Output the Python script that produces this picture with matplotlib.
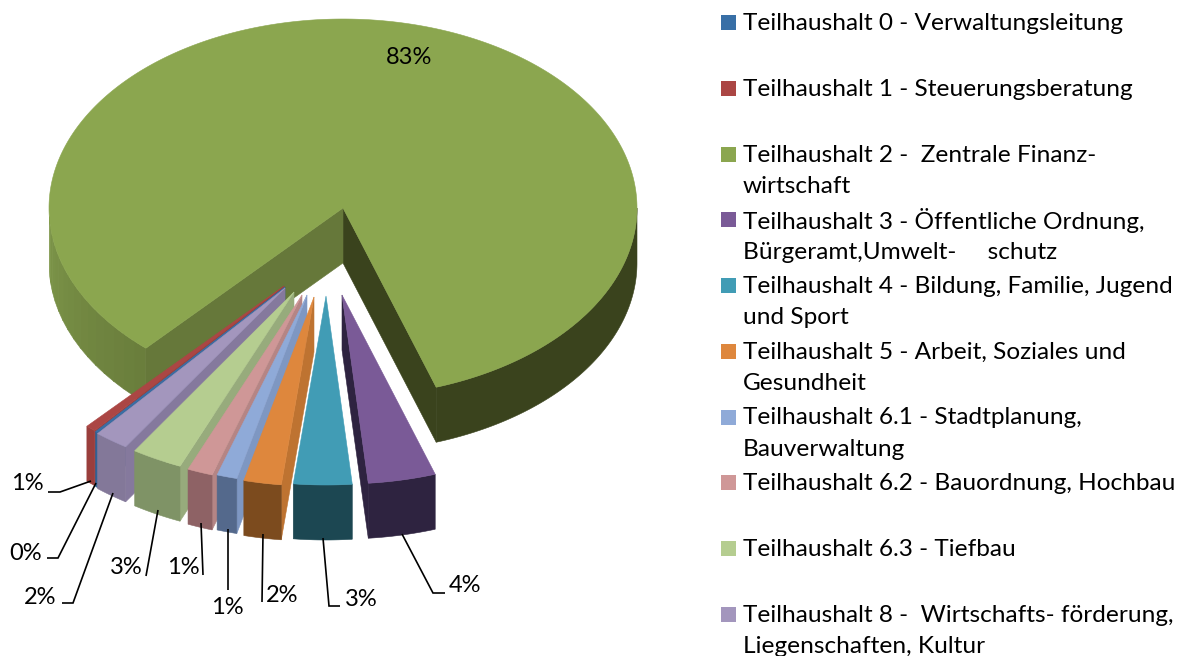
import numpy as np
import matplotlib
matplotlib.use("Agg")
import matplotlib.pyplot as plt
from matplotlib.patches import Polygon, Rectangle

plt.rcParams['font.family'] = ['Lato', 'DejaVu Sans']

# Werte in Prozent, Reihenfolge wie in der Legende
labels = [
    "Teilhaushalt 0 - Verwaltungsleitung",
    "Teilhaushalt 1 - Steuerungsberatung",
    "Teilhaushalt 2 -  Zentrale Finanz-\nwirtschaft",
    "Teilhaushalt 3 - Öffentliche Ordnung,\nBürgeramt,Umwelt-     schutz",
    "Teilhaushalt 4 - Bildung, Familie, Jugend\nund Sport",
    "Teilhaushalt 5 - Arbeit, Soziales und\nGesundheit",
    "Teilhaushalt 6.1 - Stadtplanung,\nBauverwaltung",
    "Teilhaushalt 6.2 - Bauordnung, Hochbau",
    "Teilhaushalt 6.3 - Tiefbau",
    "Teilhaushalt 8 -  Wirtschafts- förderung,\nLiegenschaften, Kultur",
]
values = [0.14, 0.55, 83.17, 3.71, 3.2, 2.06, 1.11, 1.39, 2.78, 1.89]

top_colors = ['#386FA6', '#AB4644', '#8BA64F', '#7A5A97', '#419CB5',
              '#DE873D', '#8FAAD8', '#CF9797', '#B5CD90', '#A396BD']
wall_colors = ['#2F6295', '#9A3E3C', '#3A431D', '#2E2340', '#1C4752',
               '#7C4B1E', '#54698C', '#8E6265', '#7F9366', '#837899']
side_colors = ['#2F6295', '#9A3E3C', '#3A431D', '#2E2340', '#1C4752',
               '#BE7331', '#7E97C2', '#B58585', '#97AB7C', '#85799D']

# Versatz der herausgezogenen Stuecke in Pixeln
shift_x = [-58, -59, 0, -1, -17, -29, -36, -41, -49, -58]
shift_y = [79, 78, 0, 87, 88, 89, 87, 87, 84, 80]

CX, CY = 343, 208
RX, RY = 294, 189
DEPTH = 55
START = 219.62  # Grad im Uhrzeigersinn von oben


def rim(theta, dx=0, dy=0, r=1.0):
    t = np.radians(theta)
    return np.column_stack([CX + dx + r * RX * np.sin(t), CY + dy - r * RY * np.cos(t)])


def arc(a, b, dx=0, dy=0):
    return rim(np.linspace(a, b, max(int(abs(b - a) * 2), 2)), dx, dy)


def poly(ax, pts, color, z):
    ax.add_patch(Polygon(pts, closed=True, fc=color, ec=color, lw=0.4, zorder=z))


fig = plt.figure(figsize=(11.89, 6.56), dpi=100)
ax = fig.add_axes([0, 0, 1, 1])
ax.set_xlim(0, 1189)
ax.set_ylim(656, 0)
ax.axis('off')

fractions = np.array(values) / sum(values) * 360
starts = START + np.concatenate([[0], np.cumsum(fractions)[:-1]])
ends = starts + fractions

# grosses Stueck (Teilhaushalt 2)
a, b = starts[2], ends[2]
tip = np.array([[CX, CY]])
tip_low = np.array([[CX, CY + DEPTH]])
down = np.array([0, DEPTH])

# rechte Aussenwand und Schnittflaeche
a_r = b - 360
poly(ax, np.vstack([arc(90, a_r), arc(90, a_r)[::-1] + down]), wall_colors[2], 1)
edge = rim(a_r)
poly(ax, np.vstack([tip, edge, edge + down, tip_low]), wall_colors[2], 1)
# linke Aussenwand als Verlauf
c0 = np.array(matplotlib.colors.to_rgb('#6A7E3C'))
c1 = np.array(matplotlib.colors.to_rgb('#7E974A'))
grid = np.arange(a, 270.01, 3.0)
for t0, t1 in zip(grid[:-1], grid[1:]):
    mix = (t0 - a) / (270 - a)
    strip = arc(t0, t1 + 0.3)
    poly(ax, np.vstack([strip, strip[::-1] + down]), tuple(c0 + (c1 - c0) * mix), 1)
# linke Schnittflaeche
edge = rim(a)
poly(ax, np.vstack([tip, edge, edge + down, tip_low]), '#66783A', 2)
# Deckel
poly(ax, np.vstack([tip, arc(a, b)]), top_colors[2], 3)

# kleine Stuecke von links nach rechts
order = [1, 0, 9, 8, 7, 6, 5, 4, 3]
for n, i in enumerate(order):
    z = 4 + n
    s, e = starts[i], ends[i]
    dx, dy = shift_x[i], shift_y[i]
    p = np.array([[CX + dx, CY + dy]])
    left = rim(e, dx, dy)   # im Uhrzeigersinn hinteres Ende liegt links
    right = rim(s, dx, dy)
    if left[0, 0] > p[0, 0]:
        poly(ax, np.vstack([p, left, left + down, p + down]), side_colors[i], z)
    if right[0, 0] < p[0, 0]:
        poly(ax, np.vstack([p, right, right + down, p + down]), side_colors[i], z)
    front = arc(s, e, dx, dy)
    poly(ax, np.vstack([front, front[::-1] + down]), wall_colors[i], z)
    poly(ax, np.vstack([p, front]), top_colors[i], z)

# Prozentlabels mit Fuehrungslinien
pct_x = [26, 27, 409, 465, 361, 282, 227, 183, 126, 40]
pct_y = [553, 484, 58, 586, 599, 595, 608, 568, 568, 598]
leader_x = [[47, 58, 96], [48, 60, 91], None, [445, 433, 402], [340, 329, 323],
            [262, 263], [228, 228], [203, 201], [146, 158], [62, 73, 113]]
leader_y = [[558, 558, 483], [492, 492, 481], None, [593, 593, 534], [606, 606, 538],
            [602, 534], [590, 529], [575, 523], [576, 510], [603, 603, 493]]
for i, v in enumerate(values):
    ax.text(pct_x[i], pct_y[i], f"{int(round(v))}%", fontsize=17, ha='center',
            va='center', color='black', zorder=30)
    if leader_x[i] is not None:
        ax.plot(leader_x[i], leader_y[i], color='black', lw=1.2, zorder=29,
                solid_capstyle='butt', solid_joinstyle='miter')

# Legende
for i, lab in enumerate(labels):
    y = 22.5 + i * 65.75
    ax.add_patch(Rectangle((721, y - 7.5), 15, 15, fc=top_colors[i], ec='none', zorder=30))
    for k, line in enumerate(lab.split("\n")):
        ax.text(743, y + 1 + k * 31.5, line, fontsize=17.6, ha='left', va='center',
                color='black', zorder=30)

fig.savefig("out.png", dpi=100)
plt.close(fig)
